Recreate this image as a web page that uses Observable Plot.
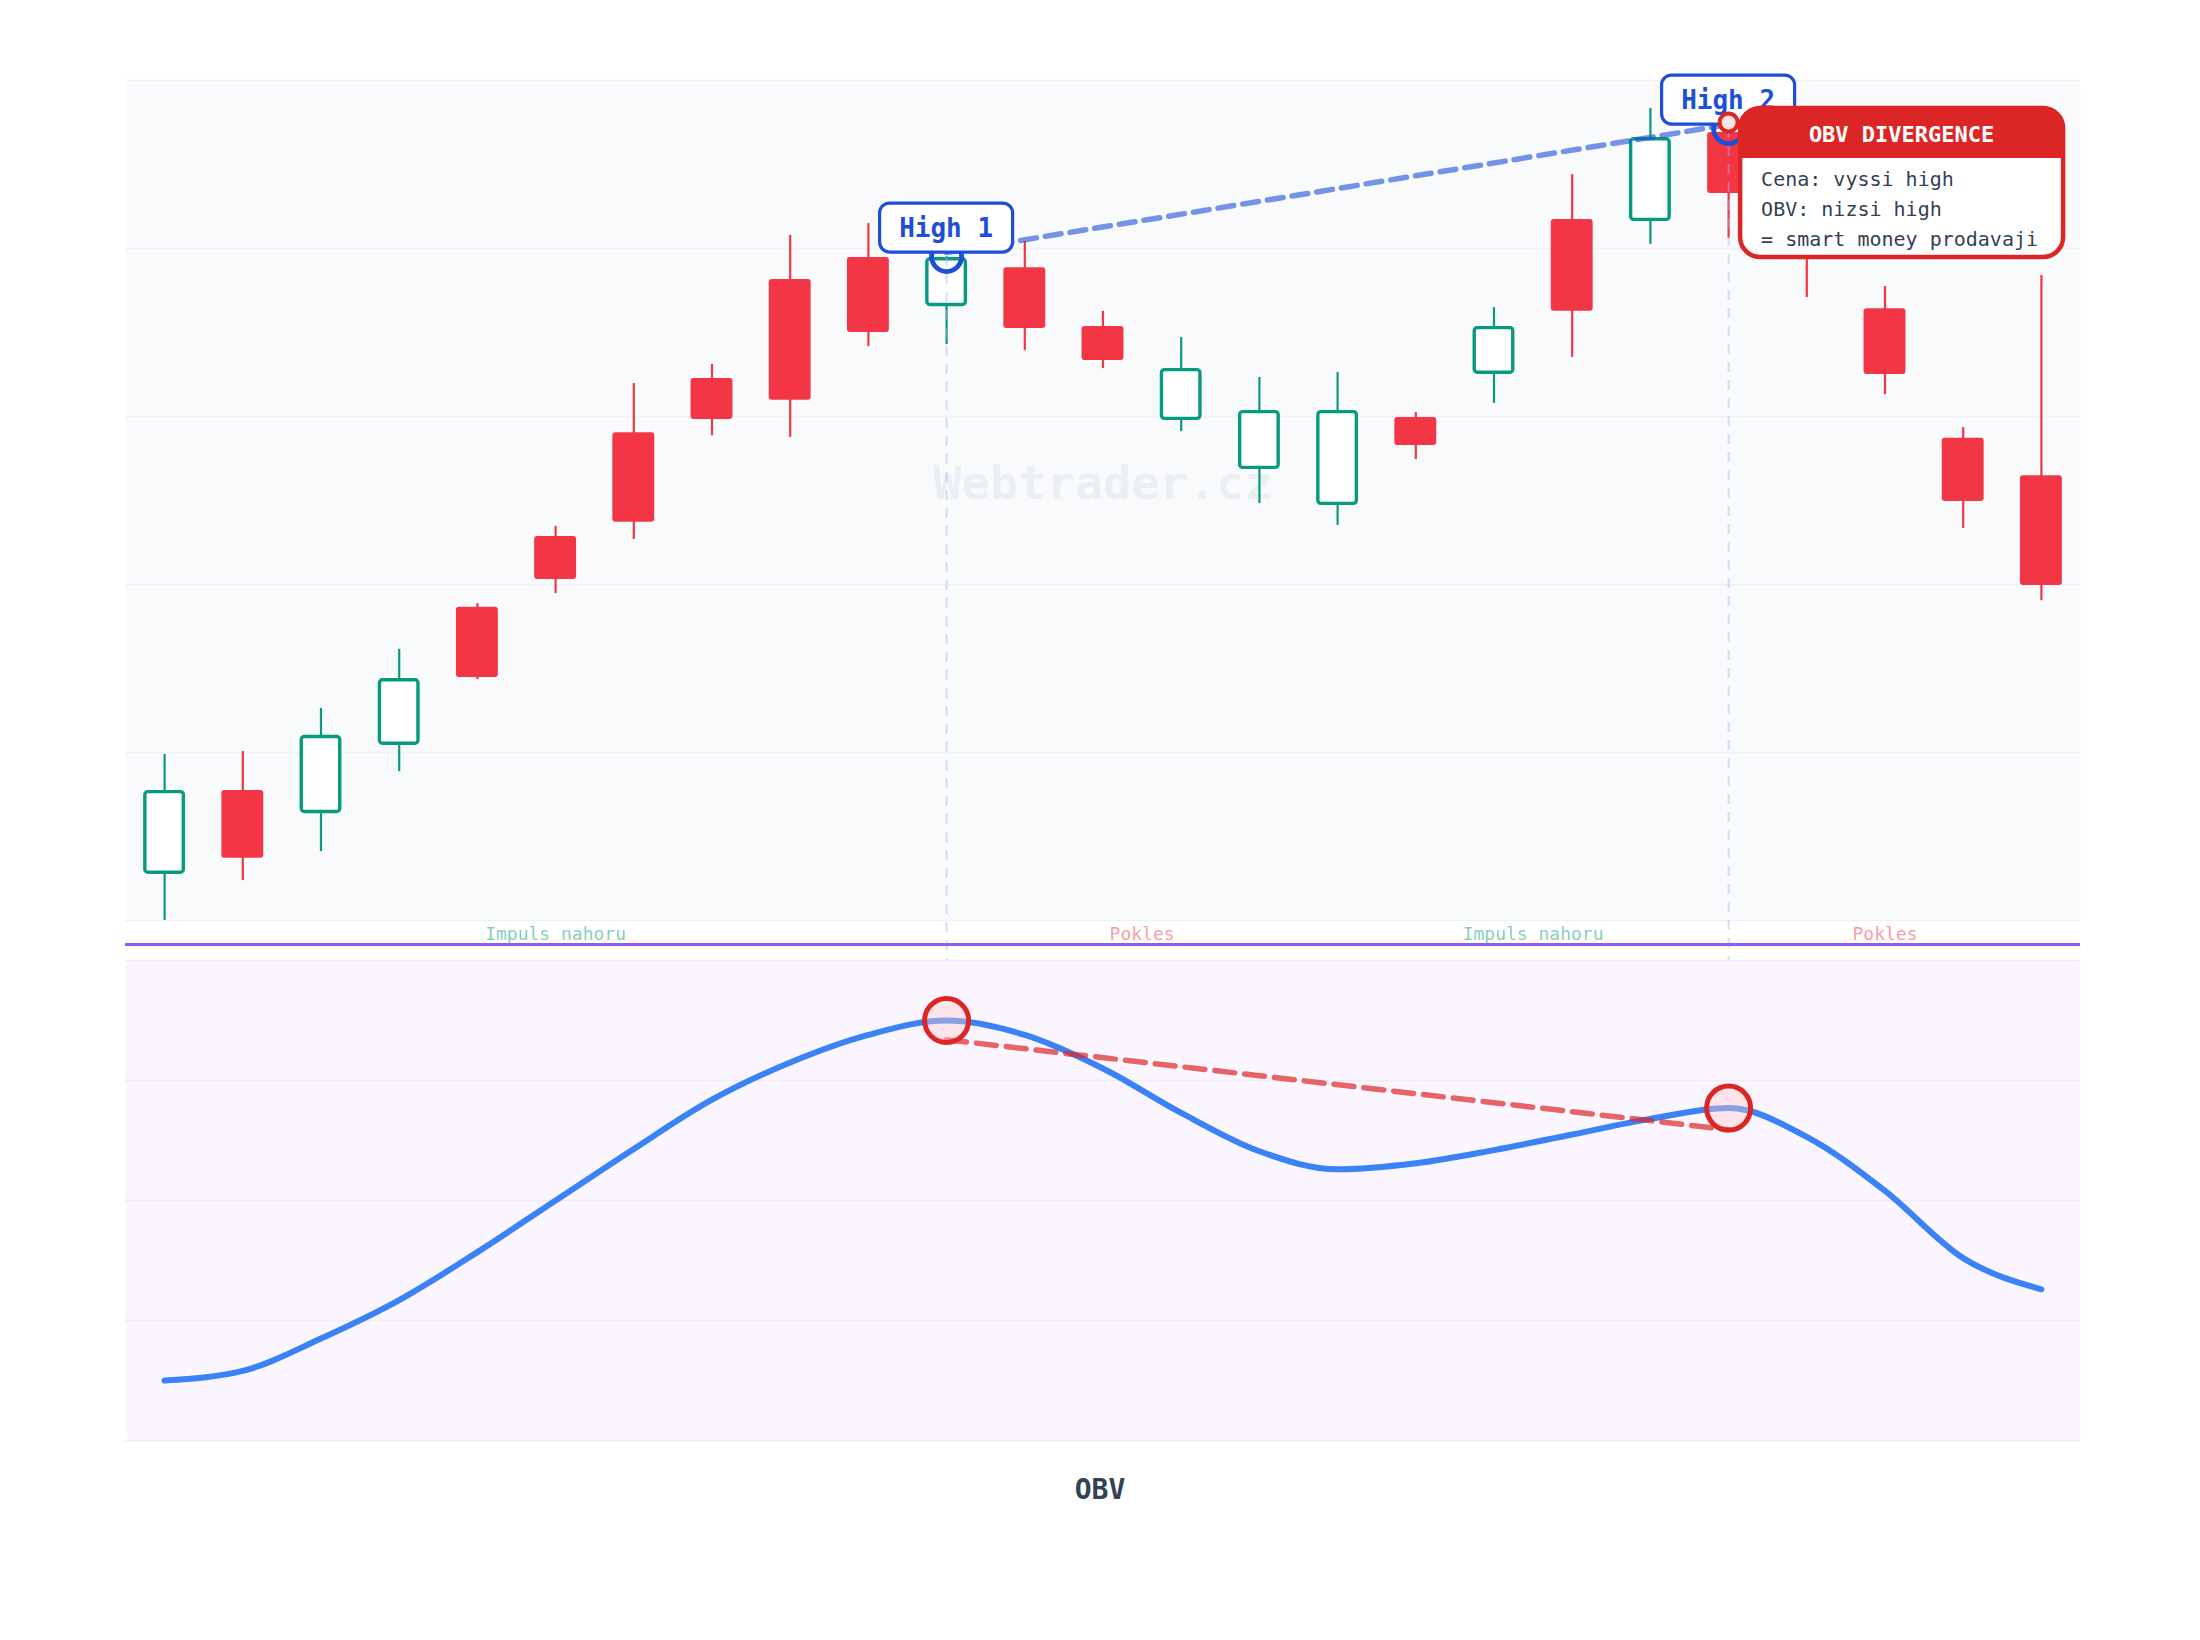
<!DOCTYPE html>
<html>
<head>
<meta charset="utf-8">
<script src="https://cdn.jsdelivr.net/npm/d3@7"></script>
<script src="https://cdn.jsdelivr.net/npm/@observablehq/plot@0.6"></script>
<style>
html, body { margin: 0; padding: 0; background: #ffffff; overflow: hidden; }
#wrap { position: relative; width: 2200px; height: 1640px; }
#price { position: absolute; left: 0; top: 0; }
#sep { position: absolute; left: 125px; top: 942.5px; width: 1955px; height: 3px; background: #8b5cf6; }
#obv { position: absolute; left: 0; top: 960px; }
#caption { position: absolute; left: 0; top: 1470px; width: 2200px; text-align: center;
  font: bold 28px "DejaVu Sans Mono", monospace; color: #334155; line-height: 40px; }
#price svg, #obv svg { background: transparent; }
</style>
</head>
<body>
<div id="wrap">
  <div id="price"></div>
  <div id="sep"></div>
  <div id="obv"></div>
  <div id="caption">OBV</div>
</div>
<script>
// ---------------- DATA ----------------
const bars   = [0,1,2,3,4,5,6,7,8,9,10,11,12,13,14,15,16,17,18,19,20,21,22,23,24];
const opens  = [101.37,103.87,103.18,105.21,109.32,111.43,114.52,116.13,119.08,119.73,118.27,119.43,117.68,114.88,113.42,112.35,114.97,116.25,120.86,120.80,123.45,121.58,118.21,114.35,113.24];
const highs  = [104.94,105.03,106.31,108.07,109.43,111.73,115.98,116.55,120.39,120.74,119.76,120.21,118.13,117.35,116.16,116.31,115.12,118.24,122.20,124.17,123.57,122.02,118.87,114.67,119.20];
const lows   = [100.00,101.19,102.05,104.43,107.17,109.73,111.34,114.43,114.38,117.08,117.14,116.96,116.43,114.55,112.41,111.76,113.72,115.39,116.76,120.12,120.30,118.54,115.65,111.67,109.52];
const closes = [103.87,101.85,105.51,107.20,107.23,110.15,111.85,114.91,115.48,117.50,119.73,117.62,116.67,116.43,115.18,115.18,114.14,117.68,118.13,123.30,121.64,120.24,116.25,112.47,109.97];

const obvValues = [50,58,85,117,157,200,243,284,315,338,350,338,310,273,241,226,231,242,255,268,277,253,208,152,126];

const priceDomain = [100, 125];
const priceTicks  = [100, 105, 110, 115, 120, 125];
const obvDomain   = [0, 400];
const obvTicks    = [0, 100, 200, 300, 400];

const phaseLabels  = ["Impuls nahoru", "Pokles", "Impuls nahoru", "Pokles"];
const phaseCenters = [5, 12.5, 17.5, 22];
const phaseKinds   = ["up", "down", "up", "down"];

const highBars   = [10, 20];
const highLabels = ["High 1", "High 2"];
const obvDivergenceLine = [334, 259];

const watermark = "Webtrader.cz";
const calloutTitle = "OBV DIVERGENCE";
const calloutLines = ["Cena: vyssi high", "OBV: nizsi high", "= smart money prodavaji"];

// ---------------- STYLE ----------------
const GREEN = "#089981", RED = "#f23645", BLUE = "#1d4ed8", ALERT = "#dc2626";
const MONO = "DejaVu Sans Mono, monospace";
const xDomain = [-0.5, 24.5];
const half = 0.268;

// ---------------- BUILD ----------------
const candles = bars.map((i, k) => ({i, open: opens[k], high: highs[k], low: lows[k], close: closes[k], up: closes[k] >= opens[k]}));
const upC = candles.filter(d => d.up);
const downC = candles.filter(d => !d.up);
const highPts = highBars.map((i, k) => ({i, price: highs[i], label: highLabels[k]}));
const phases = phaseLabels.map((label, k) => ({label, x: phaseCenters[k], kind: phaseKinds[k]}));
const obvData = bars.map((i, k) => ({i, v: obvValues[k]}));
const obvPeaks = highBars.map(i => ({i, v: obvValues[i]}));
const divLine = highBars.map((i, k) => ({i, v: obvDivergenceLine[k]}));

function labelMark(index, scales) {
  const g = d3.create("svg:g");
  for (const d of highPts) {
    const cx = scales.x(d.i), cy = scales.y(d.price);
    const w = 133, h = 49, gap = 4;
    g.append("rect").attr("x", cx - w / 2).attr("y", cy - gap - h).attr("width", w).attr("height", h)
      .attr("rx", 10).attr("fill", "#ffffff").attr("stroke", BLUE).attr("stroke-width", 3.2);
    g.append("text").attr("x", cx).attr("y", cy - gap - h / 2).attr("dy", "0.35em")
      .attr("text-anchor", "middle").attr("font-family", MONO).attr("font-weight", "bold")
      .attr("font-size", 26).attr("fill", BLUE).text(d.label);
  }
  return g.node();
}

function calloutMark(index, scales) {
  const p = highPts[1];
  const ax = scales.x(p.i), ay = scales.y(p.price);
  const x0 = ax + 12, y0 = ay - 20, w = 323, h = 149, r = 20, hh = 50;
  const g = d3.create("svg:g");
  g.append("rect").attr("x", x0).attr("y", y0).attr("width", w).attr("height", h).attr("rx", r).attr("fill", "#ffffff");
  g.append("path").attr("fill", ALERT)
    .attr("d", `M${x0},${y0 + hh} V${y0 + r} A${r},${r} 0 0 1 ${x0 + r},${y0} H${x0 + w - r} A${r},${r} 0 0 1 ${x0 + w},${y0 + r} V${y0 + hh} Z`);
  g.append("rect").attr("x", x0).attr("y", y0).attr("width", w).attr("height", h).attr("rx", r)
    .attr("fill", "none").attr("stroke", ALERT).attr("stroke-width", 4.5);
  g.append("text").attr("x", x0 + w / 2).attr("y", y0 + 26).attr("dy", "0.35em").attr("text-anchor", "middle")
    .attr("font-family", MONO).attr("font-weight", "bold").attr("font-size", 22).attr("fill", "#ffffff").text(calloutTitle);
  calloutLines.forEach((t, k) => {
    g.append("text").attr("x", x0 + 21).attr("y", y0 + 71 + k * 30).attr("dy", "0.35em")
      .attr("text-anchor", "start")
      .attr("font-family", MONO).attr("font-size", 20).attr("fill", "#334155").text(t);
  });
  return g.node();
}

const pricePlot = Plot.plot({
  width: 2200, height: 960,
  marginTop: 80, marginRight: 120, marginBottom: 40, marginLeft: 125,
  x: {type: "linear", domain: xDomain, axis: null},
  y: {domain: priceDomain, axis: null},
  style: {background: "transparent", overflow: "visible"},
  marks: [
    Plot.frame({fill: "#f8fafc", stroke: null, rx: 6}),
    Plot.ruleY(priceTicks, {stroke: "#eef1f5", strokeWidth: 1.5}),
    Plot.text([watermark], {text: d => d, frameAnchor: "middle", dy: -17, fontSize: 47, fontWeight: "bold",
      fontFamily: MONO, fill: "#94a3b8", fillOpacity: 0.12}),
    Plot.ruleX(upC, {x: "i", y1: "low", y2: "high", stroke: GREEN, strokeWidth: 2.2}),
    Plot.ruleX(downC, {x: "i", y1: "low", y2: "high", stroke: RED, strokeWidth: 2.2}),
    Plot.rect(downC, {x1: d => d.i - half, x2: d => d.i + half, y1: "close", y2: "open", fill: RED, rx: 3}),
    Plot.rect(upC, {x1: d => d.i - half, x2: d => d.i + half, y1: "open", y2: "close", fill: "#ffffff",
      stroke: GREEN, strokeWidth: 3.4, inset: 1.7, rx: 3}),
    Plot.ruleX(highPts, {x: "i", y1: "price", y2: priceDomain[0], stroke: "#a5b4fc", strokeOpacity: 0.45,
      strokeWidth: 2, strokeDasharray: "10,8", insetBottom: -40}),
    Plot.line(highPts, {x: "i", y: "price", dy: -4, stroke: BLUE, strokeOpacity: 0.6, strokeWidth: 5.5, strokeDasharray: "16,9"}),
    Plot.dot(highPts, {x: "i", y: "price", r: 15, stroke: BLUE, strokeWidth: 4.8, fill: "none"}),
    labelMark,
    Plot.dot([highPts[1]], {x: "i", y: "price", dy: -6, r: 9, stroke: ALERT, strokeWidth: 4, fill: "#fde4e4"}),
    calloutMark,
    Plot.text(phases.filter(d => d.kind === "up"), {x: "x", text: "label", frameAnchor: "bottom", lineAnchor: "middle", dy: 14,
      fontSize: 18, fontFamily: MONO, fill: GREEN, fillOpacity: 0.5}),
    Plot.text(phases.filter(d => d.kind === "down"), {x: "x", text: "label", frameAnchor: "bottom", lineAnchor: "middle", dy: 14,
      fontSize: 18, fontFamily: MONO, fill: RED, fillOpacity: 0.5})
  ]
});
document.getElementById("price").appendChild(pricePlot);

const obvPlot = Plot.plot({
  width: 2200, height: 480,
  marginTop: 0, marginRight: 120, marginBottom: 0, marginLeft: 125,
  x: {type: "linear", domain: xDomain, axis: null},
  y: {domain: obvDomain, axis: null},
  style: {background: "transparent", overflow: "visible"},
  marks: [
    Plot.frame({fill: "#faf5ff", stroke: null, rx: 6}),
    Plot.ruleY(obvTicks, {stroke: "#efeaf7", strokeWidth: 1.5}),
    Plot.line(obvData, {x: "i", y: "v", stroke: "#3b82f6", strokeWidth: 6, curve: "monotone-x", strokeLinecap: "round", strokeLinejoin: "round"}),
    Plot.line(divLine, {x: "i", y: "v", stroke: ALERT, strokeOpacity: 0.7, strokeWidth: 5.5, strokeDasharray: "20,10"}),
    Plot.dot(obvPeaks, {x: "i", y: "v", r: 22, stroke: ALERT, strokeWidth: 5, fill: "#fecaca", fillOpacity: 0.4})
  ]
});
document.getElementById("obv").appendChild(obvPlot);
</script>
</body>
</html>
